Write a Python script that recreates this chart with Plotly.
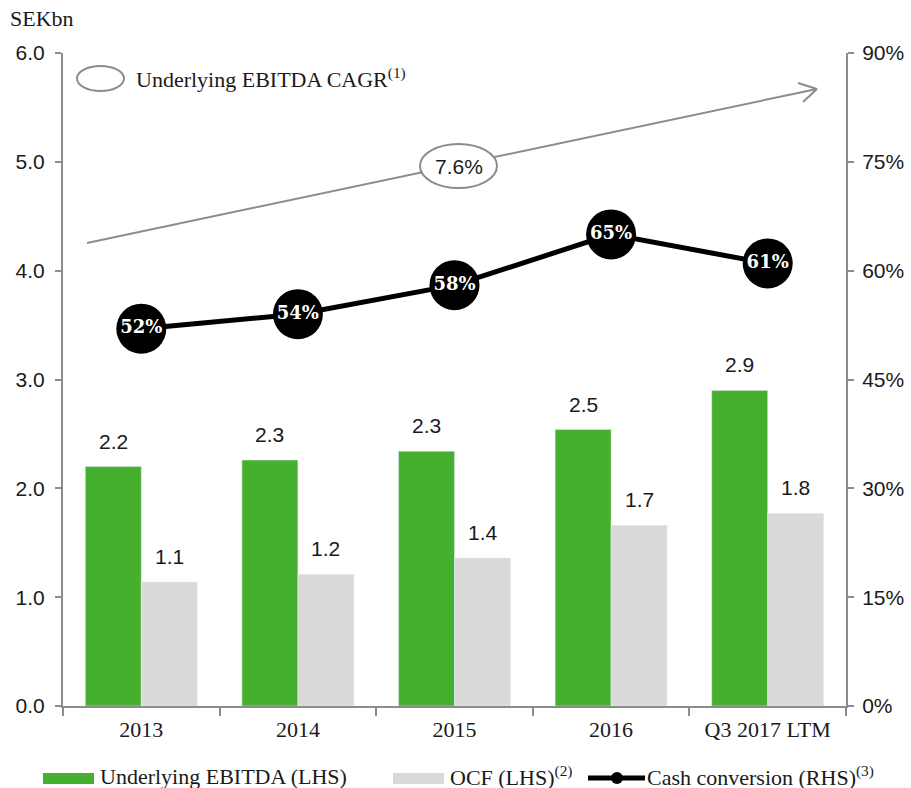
import plotly.graph_objects as go

# ---- data ----
categories = ["2013", "2014", "2015", "2016", "Q3 2017 LTM"]
ebitda = [2.20, 2.26, 2.34, 2.54, 2.90]
ocf = [1.14, 1.21, 1.36, 1.66, 1.77]
cash_conv = [52, 54, 58, 65, 61]
cagr_label = "7.6%"
left_ticks = [0, 1, 2, 3, 4, 5, 6]
right_ticks = [0, 15, 30, 45, 60, 75, 90]

GREEN = "#45b02d"
GRAY = "#d9d9d9"
AXIS = "#8c8c8c"
TXT = "#1a1a1a"
SERIF = "Liberation Serif"
SANS = "Liberation Sans"

W, H = 911, 788
L, R, T, B = 63, 65, 53, 82
PW, PH = W - L - R, H - T - B


def px(x):
    return (x - L) / PW


def py(y):
    return (H - B - y) / PH


fig = go.Figure()
fig.add_trace(go.Bar(x=categories, y=ebitda, marker_color=GREEN, name="Underlying EBITDA (LHS)",
                     showlegend=False, hoverinfo="skip"))
fig.add_trace(go.Bar(x=categories, y=ocf, marker_color=GRAY, name="OCF (LHS)",
                     showlegend=False, hoverinfo="skip"))
fig.add_trace(go.Scatter(x=categories, y=cash_conv, yaxis="y2", mode="lines+markers+text",
                         line=dict(color="black", width=5),
                         marker=dict(size=50, color="black"),
                         text=[f"{v}%" for v in cash_conv], textposition="middle center",
                         textfont=dict(family="DejaVu Serif", size=18, color="white", weight="bold"),
                         showlegend=False, hoverinfo="skip", cliponaxis=False))

annotations = []
for i, v in enumerate(ebitda):
    annotations.append(dict(x=i, y=v, xref="x", yref="y", text=f"{v:.1f}", showarrow=False,
                            yanchor="bottom", xshift=-28, yshift=12,
                            font=dict(family=SANS, size=21, color=TXT)))
for i, v in enumerate(ocf):
    annotations.append(dict(x=i, y=v, xref="x", yref="y", text=f"{v:.1f}", showarrow=False,
                            yanchor="bottom", xshift=28, yshift=12,
                            font=dict(family=SANS, size=21, color=TXT)))

# texts
annotations += [
    dict(x=px(8), y=py(18), xref="paper", yref="paper", text="SEKbn", showarrow=False,
         xanchor="left", yanchor="middle", font=dict(family=SERIF, size=22, color=TXT)),
    dict(x=px(134), y=py(78), xref="paper", yref="paper",
         text="Underlying EBITDA CAGR<sup>(1)</sup>", showarrow=False,
         xanchor="left", yanchor="middle", font=dict(family=SERIF, size=22, color=TXT)),
    dict(x=px(458.5), y=py(166), xref="paper", yref="paper", text=cagr_label, showarrow=False,
         xanchor="center", yanchor="middle", font=dict(family=SANS, size=21, color=TXT)),
    dict(x=px(98), y=py(776), xref="paper", yref="paper", text="Underlying EBITDA (LHS)",
         showarrow=False, xanchor="left", yanchor="middle", font=dict(family=SERIF, size=22, color=TXT)),
    dict(x=px(448), y=py(776), xref="paper", yref="paper", text="OCF (LHS)<sup>(2)</sup>",
         showarrow=False, xanchor="left", yanchor="middle", font=dict(family=SERIF, size=22, color=TXT)),
    dict(x=px(645), y=py(776), xref="paper", yref="paper", text="Cash conversion (RHS)<sup>(3)</sup>",
         showarrow=False, xanchor="left", yanchor="middle", font=dict(family=SERIF, size=22, color=TXT)),
]

shapes = [
    # CAGR arrow
    dict(type="line", xref="paper", yref="paper", x0=px(87), y0=py(243), x1=px(817), y1=py(89),
         line=dict(color=AXIS, width=2)),
    dict(type="line", xref="paper", yref="paper", x0=px(798), y0=py(83), x1=px(817), y1=py(89),
         line=dict(color=AXIS, width=2)),
    dict(type="line", xref="paper", yref="paper", x0=px(803), y0=py(102), x1=px(817), y1=py(89),
         line=dict(color=AXIS, width=2)),
    dict(type="circle", xref="paper", yref="paper", x0=px(420), x1=px(497), y0=py(188), y1=py(144),
         fillcolor="white", line=dict(color=AXIS, width=2)),
    # legend ellipse
    dict(type="circle", xref="paper", yref="paper", x0=px(77), x1=px(124), y0=py(91), y1=py(66),
         fillcolor="white", line=dict(color=AXIS, width=2)),
    # bottom legend
    dict(type="rect", xref="paper", yref="paper", x0=px(43), x1=px(94), y0=py(784), y1=py(773),
         fillcolor=GREEN, line=dict(width=0)),
    dict(type="rect", xref="paper", yref="paper", x0=px(393), x1=px(444), y0=py(784), y1=py(773),
         fillcolor=GRAY, line=dict(width=0)),
    dict(type="line", xref="paper", yref="paper", x0=px(588), x1=px(645), y0=py(778), y1=py(778),
         line=dict(color="black", width=5)),
    dict(type="circle", xref="paper", yref="paper", x0=px(611), x1=px(623), y0=py(784), y1=py(772),
         fillcolor="black", line=dict(width=0)),
]

fig.update_layout(
    width=W, height=H, autosize=False,
    margin=dict(l=L, r=R, t=T, b=B, pad=0),
    paper_bgcolor="white", plot_bgcolor="white",
    barmode="group", bargap=0.285, bargroupgap=0,
    showlegend=False, hovermode=False,
    xaxis=dict(type="category", categoryorder="array", categoryarray=categories,
               range=[-0.5, len(categories) - 0.5], automargin=False,
               tickson="boundaries", ticks="outside", ticklen=8, tickwidth=2, tickcolor=AXIS,
               showline=True, linecolor=AXIS, linewidth=2, showgrid=False, ticklabelstandoff=3,
               tickfont=dict(family=SERIF, size=22, color=TXT)),
    yaxis=dict(range=[0, 6], tickvals=left_ticks, ticktext=[f"{v:.1f}" for v in left_ticks],
               ticks="outside", ticklen=6, ticklabelstandoff=6,
               tickwidth=2, tickcolor=AXIS, showline=True, linecolor=AXIS, linewidth=2,
               automargin=False,
               showgrid=False, zeroline=False, tickfont=dict(family=SANS, size=21, color=TXT)),
    yaxis2=dict(range=[0, 90], tickvals=right_ticks, ticktext=[f"{v}%" for v in right_ticks],
                overlaying="y", side="right", automargin=False, ticklabelstandoff=4,
                ticks="outside", ticklen=6, tickwidth=2, tickcolor=AXIS, showline=True,
                linecolor=AXIS, linewidth=2, showgrid=False, zeroline=False,
                tickfont=dict(family=SANS, size=21, color=TXT)),
    annotations=annotations, shapes=shapes,
)

fig.write_html("out.html", config={"displayModeBar": False},
               post_script="document.body.style.margin='0';document.body.style.overflow='hidden';")
